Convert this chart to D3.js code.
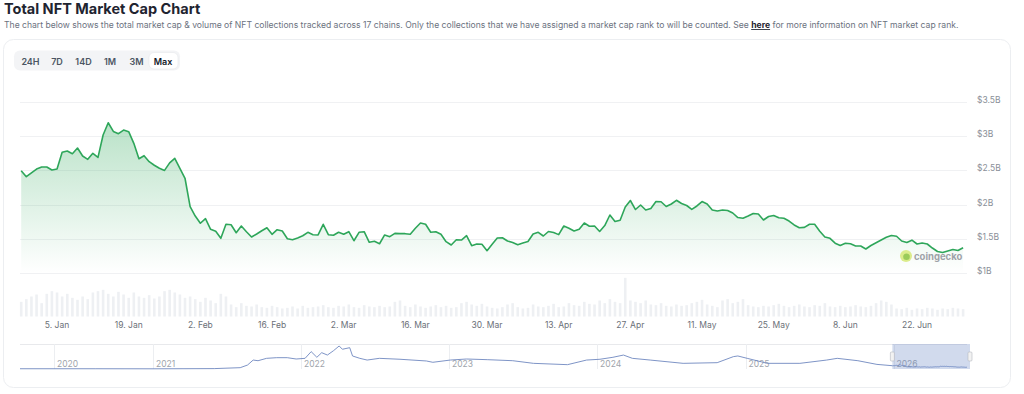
<!DOCTYPE html>
<html>
<head>
<meta charset="utf-8">
<script src="https://cdn.jsdelivr.net/npm/d3@7/dist/d3.min.js"></script>
<style>
  html, body { margin: 0; padding: 0; background: #fff; }
  svg { display: block; font-family: Inter, "Noto Sans", sans-serif; }
</style>
</head>
<body>
<svg id="chart" width="1024" height="394"></svg>
<script>
// ---- data ----
const startDate = '2025-12-29';

// daily total NFT market cap, $B
const marketCap = [
  2.496, 2.408, 2.465, 2.52, 2.55, 2.55, 2.506, 2.52, 2.765, 2.784,
  2.744, 2.827, 2.71, 2.662, 2.75, 2.69, 3.018, 3.197, 3.07, 3.037,
  3.09, 3.066, 2.896, 2.671, 2.715, 2.627, 2.575, 2.531, 2.50, 2.61,
  2.677, 2.531, 2.385, 1.969, 1.833, 1.727, 1.794, 1.639, 1.61, 1.507,
  1.712, 1.706, 1.589, 1.687, 1.604, 1.526, 1.57, 1.618, 1.662, 1.566,
  1.633, 1.614, 1.501, 1.487, 1.512, 1.545, 1.595, 1.56, 1.556, 1.712,
  1.56, 1.551, 1.595, 1.566, 1.604, 1.472, 1.595, 1.604, 1.449, 1.463,
  1.428, 1.556, 1.531, 1.58, 1.575, 1.575, 1.566, 1.654, 1.731, 1.712,
  1.595, 1.604, 1.566, 1.458, 1.409, 1.487, 1.482, 1.545, 1.399, 1.424,
  1.42, 1.326, 1.42, 1.512, 1.516, 1.468, 1.446, 1.414, 1.439, 1.46,
  1.57, 1.595, 1.541, 1.607, 1.592, 1.561, 1.687, 1.655, 1.614, 1.639,
  1.731, 1.683, 1.687, 1.607, 1.694, 1.848, 1.753, 1.77, 1.965, 2.06,
  1.928, 1.994, 1.921, 1.943, 2.045, 2.042, 1.972, 2.009, 2.063, 2.016,
  1.987, 1.931, 1.98, 2.045, 2.009, 1.921, 1.906, 1.921, 1.914, 1.877,
  1.811, 1.8, 1.833, 1.87, 1.863, 1.775, 1.826, 1.841, 1.807, 1.8,
  1.76, 1.702, 1.661, 1.667, 1.712, 1.712, 1.611, 1.526, 1.507, 1.436,
  1.402, 1.434, 1.427, 1.395, 1.395, 1.351, 1.402, 1.442, 1.482, 1.522,
  1.548, 1.537, 1.468, 1.446, 1.48, 1.424, 1.439, 1.424, 1.365, 1.314,
  1.30, 1.322, 1.344, 1.329, 1.37
];

// daily volume, $M
const volume = [
  22, 26, 30, 33, 20, 34, 38, 36, 30, 34,
  28, 25, 30, 26, 36, 38, 40, 34, 30, 37,
  33, 28, 36, 30, 28, 32, 27, 30, 38, 40,
  36, 33, 28, 30, 26, 22, 28, 24, 20, 34,
  30, 18, 14, 20, 16, 15, 18, 14, 13, 16,
  14, 12, 13, 15, 12, 16, 13, 14, 15, 17,
  14, 13, 16, 15, 18, 14, 13, 17, 15, 14,
  16, 14, 15, 22, 24, 16, 14, 18, 15, 13,
  15, 17, 14, 16, 13, 14, 20, 22, 18, 16,
  19, 15, 13, 12, 14, 18, 20, 14, 12, 13,
  18, 15, 14, 16, 19, 14, 15, 20, 17, 16,
  22, 19, 18, 24, 20, 26, 22, 20, 58, 24,
  22, 20, 24, 18, 17, 20, 16, 15, 18, 16,
  17, 20, 22, 25, 18, 16, 14, 24, 26, 20,
  22, 26, 17, 15, 14, 16, 15, 17, 19, 16,
  14, 16, 18, 15, 14, 17, 16, 20, 15, 14,
  16, 14, 15, 17, 15, 14, 16, 20, 24, 22,
  18, 12, 11, 13, 10, 12, 11, 13, 12, 10,
  12, 11, 13, 12, 11
];

const yTicks = [1, 1.5, 2, 2.5, 3, 3.5];
const xTickDates = ['2026-01-05', '2026-01-19', '2026-02-02', '2026-02-16', '2026-03-02', '2026-03-16',
  '2026-03-30', '2026-04-13', '2026-04-27', '2026-05-11', '2026-05-25', '2026-06-08', '2026-06-22'];

// navigator history before the visible range, $B
const navDates = ['2019-09-01', '2020-06-01', '2021-01-01', '2021-06-01', '2021-08-04', '2021-08-22',
  '2021-09-05', '2021-09-17', '2021-10-08', '2021-11-02', '2021-11-28', '2021-12-20', '2022-01-11',
  '2022-01-26', '2022-02-09', '2022-02-21', '2022-03-07', '2022-03-22', '2022-04-05', '2022-04-13',
  '2022-05-01', '2022-05-08', '2022-05-26', '2022-06-13', '2022-07-13', '2022-09-02', '2022-11-06',
  '2022-11-22', '2023-01-04', '2023-02-13', '2023-04-05', '2023-06-07', '2023-07-28', '2023-10-20',
  '2023-12-06', '2024-01-08', '2024-02-09', '2024-03-06', '2024-03-28', '2024-05-11', '2024-07-31',
  '2024-10-23', '2024-12-02', '2024-12-13', '2025-01-05', '2025-02-24', '2025-05-15', '2025-07-20',
  '2025-08-15', '2025-10-05', '2025-11-21'];
const navValues = [0.2, 0.2, 0.15, 0.3, 1.0, 3.0,
  6.8, 6.3, 8.1, 8.6, 8.6, 7.6, 8.1,
  13.2, 8.9, 12.4, 10.6, 13.9, 17.5, 15.0,
  16.2, 9.9, 8.1, 6.8, 8.1, 7.4, 6.1,
  5.1, 6.8, 7.6, 7.1, 6.3, 4.3, 3.3,
  6.8, 7.4, 8.9, 10.6, 8.1, 6.8, 4.3,
  4.8, 9.4, 9.9, 8.1, 4.3, 4.3, 6.8,
  8.1, 6.3, 3.5];
const navYears = ['2020', '2021', '2022', '2023', '2024', '2025', '2026'];

const rangeButtons = ['24H', '7D', '14D', '1M', '3M', 'Max'];

// ---- helpers ----
const parse = d3.utcParse('%Y-%m-%d');
const day0 = parse(startDate);
const series = marketCap.map((v, i) => ({ date: d3.utcDay.offset(day0, i), value: v, vol: volume[i] }));
const lastDate = series[series.length - 1].date;

const svg = d3.select('#chart');

// ---- heading ----
svg.append('text')
  .attr('x', 4).attr('y', 14)
  .style('font-size', '14.5px').style('font-weight', 700).attr('fill', '#1f2430')
  .text('Total NFT Market Cap Chart');

const desc = svg.append('text')
  .attr('x', 4).attr('y', 28)
  .style('font-size', '8.6px').attr('fill', '#6b7280');
desc.append('tspan').text('The chart below shows the total market cap & volume of NFT collections tracked across 17 chains. Only the collections that we have assigned a market cap rank to will be counted. See ');
desc.append('tspan').style('font-weight', 700).attr('fill', '#1f2430').attr('text-decoration', 'underline').text('here');
desc.append('tspan').text(' for more information on NFT market cap rank.');

// card
svg.append('rect')
  .attr('x', 3.5).attr('y', 39.5).attr('width', 1007).attr('height', 348).attr('rx', 10)
  .attr('fill', '#fff').attr('stroke', '#eceef1');

// ---- range buttons ----
const btnX = d3.scalePoint().domain(rangeButtons).range([30.5, 163]);
svg.append('rect')
  .attr('x', 14).attr('y', 50.5).attr('width', 166).attr('height', 20).attr('rx', 6)
  .attr('fill', '#f3f4f6');
svg.append('rect')
  .attr('x', 149).attr('y', 52.5).attr('width', 29).attr('height', 16.5).attr('rx', 5)
  .attr('fill', '#fff').attr('stroke', '#e5e7eb').attr('stroke-width', 0.6);
svg.append('g').selectAll('text')
  .data(rangeButtons)
  .enter().append('text')
  .attr('x', d => btnX(d)).attr('y', 61)
  .attr('text-anchor', 'middle').attr('dominant-baseline', 'central')
  .style('font-size', '9px').style('font-weight', 600)
  .attr('fill', d => d === 'Max' ? '#111827' : '#4b5563')
  .text(d => d);

// ---- main chart ----
const x = d3.scaleUtc().domain([day0, lastDate]).range([21.2, 963.1]);
const y = d3.scaleLinear().domain([1, 3.5]).range([273, 102]);
const plotLeft = 20, plotRight = 967;

svg.append('g').selectAll('line')
  .data(yTicks)
  .enter().append('line')
  .attr('x1', plotLeft).attr('x2', plotRight)
  .attr('y1', d => Math.round(y(d)) + 0.5).attr('y2', d => Math.round(y(d)) + 0.5)
  .attr('stroke', '#f0f1f3');

svg.append('g').selectAll('text')
  .data(yTicks)
  .enter().append('text')
  .attr('x', 977).attr('y', d => y(d) - 2)
  .attr('dominant-baseline', 'central')
  .style('font-size', '8.5px').attr('fill', '#8a8f98')
  .text(d => '$' + d + 'B');

// gradient fill
const defs = svg.append('defs');
const grad = defs.append('linearGradient')
  .attr('id', 'capFill').attr('gradientUnits', 'userSpaceOnUse')
  .attr('x1', 0).attr('x2', 0).attr('y1', y(3.5)).attr('y2', y(1));
grad.append('stop').attr('offset', 0).attr('stop-color', '#2fa85a').attr('stop-opacity', 0.38);
grad.append('stop').attr('offset', 1).attr('stop-color', '#2fa85a').attr('stop-opacity', 0.0);

const area = d3.area().x(d => x(d.date)).y0(y(1)).y1(d => y(d.value));
const line = d3.line().x(d => x(d.date)).y(d => y(d.value));

svg.append('path').datum(series).attr('d', area).attr('fill', 'url(#capFill)');
svg.append('path').datum(series).attr('d', line)
  .attr('fill', 'none').attr('stroke', '#2ea65a').attr('stroke-width', 1.6)
  .attr('stroke-linejoin', 'round');

// watermark
svg.append('circle').attr('cx', 906).attr('cy', 256).attr('r', 6).attr('fill', '#dbec8c');
svg.append('circle').attr('cx', 906.5).attr('cy', 256.8).attr('r', 3.3).attr('fill', '#9bcb5a');
svg.append('text')
  .attr('x', 914).attr('y', 256).attr('dominant-baseline', 'central')
  .style('font-size', '9.5px').style('font-weight', 700).attr('fill', '#9ea2a8')
  .text('coingecko');

// ---- volume bars ----
const yVol = d3.scaleLinear().domain([0, 60]).range([316.5, 276.5]);
svg.append('g').selectAll('rect')
  .data(series)
  .enter().append('rect')
  .attr('x', d => x(d.date) - 1.3)
  .attr('width', 2.6)
  .attr('y', d => yVol(d.vol))
  .attr('height', d => yVol(0) - yVol(d.vol))
  .attr('fill', '#eef0f3');

// x axis labels
const fmt = d3.utcFormat('%-d. %b');
svg.append('g').selectAll('text')
  .data(xTickDates.map(parse))
  .enter().append('text')
  .attr('x', d => x(d)).attr('y', 328)
  .attr('text-anchor', 'middle')
  .style('font-size', '8.5px').attr('fill', '#6b7078')
  .text(d => fmt(d));

// ---- navigator ----
const navSeries = navDates.map((d, i) => ({ date: parse(d), value: navValues[i] }))
  .concat(series.map(d => ({ date: d.date, value: d.value })));
const xNav = d3.scaleUtc()
  .domain([parse(navDates[0]), parse('2020-01-01'), parse('2021-01-01'), parse('2026-07-01')])
  .range([20, 54, 153, 967]);
const yNav = d3.scaleLinear().domain([0, 19]).range([369, 344]);

svg.append('line')
  .attr('x1', 20).attr('x2', 967).attr('y1', 344.5).attr('y2', 344.5)
  .attr('stroke', '#e8e9ec');

const yearDates = navYears.map(d => parse(d + '-01-01'));
svg.append('g').selectAll('line')
  .data(yearDates)
  .enter().append('line')
  .attr('x1', d => Math.round(xNav(d)) + 0.5).attr('x2', d => Math.round(xNav(d)) + 0.5)
  .attr('y1', 344).attr('y2', 369)
  .attr('stroke', '#eceef1');
svg.append('g').selectAll('text')
  .data(yearDates)
  .enter().append('text')
  .attr('x', d => xNav(d) + 3).attr('y', 367)
  .style('font-size', '8.5px').attr('fill', '#a0a4ab')
  .text(d => d3.utcFormat('%Y')(d));

svg.append('path').datum(navSeries)
  .attr('d', d3.line().x(d => xNav(d.date)).y(d => yNav(d.value)))
  .attr('fill', 'none').attr('stroke', '#6f88c0').attr('stroke-width', 0.9);

// selected range
const selX0 = xNav(day0), selX1 = xNav(lastDate) + 3;
svg.append('rect')
  .attr('x', selX0).attr('y', 344).attr('width', selX1 - selX0).attr('height', 25)
  .attr('fill', 'rgba(102,133,194,0.3)');
[selX0, selX1].forEach(hx => {
  svg.append('rect')
    .attr('x', hx - 2).attr('y', 352).attr('width', 4).attr('height', 9).attr('rx', 1)
    .attr('fill', '#f2f2f2').attr('stroke', '#b5b9c0').attr('stroke-width', 0.6);
});
</script>
</body>
</html>
